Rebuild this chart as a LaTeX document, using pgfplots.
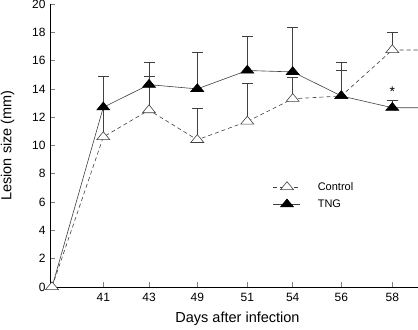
\documentclass[border=0pt]{standalone}
\usepackage{fontspec}
\setmainfont{Liberation Sans}
\usepackage{pgfplots}
\usepackage{pgfplotstable}
\pgfplotsset{compat=1.18}
\definecolor{ln}{gray}{0.25}
% x positions: 41,43,49,51,54,56,58 placed as in the reference
\pgfplotstableread{
x y ey
53.3 10.6 2.0
99 12.5 2.4
147.3 10.4 2.2
197.3 11.7 2.7
242.7 13.3 1.5
291.3 13.5 1.8
342.3 16.75 1.25
}\ctrlerr
\pgfplotstableread{
x y ey
53.3 12.7 2.2
99 14.3 1.6
147.3 14.0 2.6
197.3 15.3 2.4
242.7 15.2 3.15
291.3 13.5 2.4
342.3 12.67 0.53
}\tngerr
\pgfplotstableread{
x y
2 0
53.3 10.6
99 12.5
147.3 10.4
197.3 11.7
242.7 13.3
291.3 13.5
342.3 16.75
368 16.75
}\ctrl
\pgfplotstableread{
x y
2 0
53.3 12.7
99 14.3
147.3 14.0
197.3 15.3
242.7 15.2
291.3 13.5
342.3 12.67
368 12.67
}\tng
\begin{document}
\begin{tikzpicture}
\begin{axis}[
  at={(0,0)}, anchor=south west,
  scale only axis, width=368bp, height=283bp,
  xmin=0, xmax=368, ymin=0, ymax=20,
  clip=false,
  axis x line=bottom, axis y line=left,
  axis line style={-, black, line width=0.8bp},
  xtick={53.3,99,147.3,197.3,242.7,291.3,342.3},
  xticklabels={41,43,49,51,54,56,58},
  ytick={0,2,...,20},
  tick align=inside, major tick length=5bp,
  tick style={gray, line width=0.6bp},
  /pgf/number format/assume math mode=true,
  ticklabel style={font=\fontsize{12bp}{13bp}\selectfont},
  xticklabel style={yshift=-3bp},
  yticklabel style={xshift=-1bp},
  xlabel={Days after infection}, ylabel={Lesion size (mm)},
  every axis x label/.style={at={(axis description cs:0.5095,0)}, anchor=center, yshift=-32bp},
  every axis y label/.style={at={(axis description cs:-0.1155,0.5)}, rotate=90, anchor=center},
  label style={font=\fontsize{14.5bp}{16bp}\selectfont},
  legend style={draw=none, fill=none, at={(axis cs:220,7.7)}, anchor=north west,
    font=\fontsize{11bp}{13bp}\selectfont, row sep=4bp,
    /tikz/every odd column/.append style={column sep=15bp}},
  legend cell align=left,
  legend image code/.code={\draw[#1, mark indices={2}] plot coordinates {(0bp,0bp)(13.5bp,0bp)(27bp,0bp)};},
]
\addplot[only marks, mark=none, forget plot, ln, line width=0.6bp,
  error bars/.cd, y dir=plus, y explicit,
  error bar style={ln, solid, line width=0.6bp},
  error mark options={rotate=90, mark size=5.5bp, ln, line width=0.6bp}]
  table[x=x, y=y, y error=ey]{\ctrlerr};
\addplot[only marks, mark=none, forget plot, ln, line width=0.6bp,
  error bars/.cd, y dir=plus, y explicit,
  error bar style={ln, solid, line width=0.6bp},
  error mark options={rotate=90, mark size=5.5bp, ln, line width=0.6bp}]
  table[x=x, y=y, y error=ey]{\tngerr};
\addplot[ln, line width=0.6bp, dash pattern=on 4bp off 3bp,
  mark=triangle*, mark size=7.5bp, mark indices={1,...,8},
  mark options={solid, fill=white, draw=ln, yscale=0.7}]
  table[x=x, y=y]{\ctrl};
\addlegendentry{Control}
\addplot[ln, line width=0.6bp,
  mark=triangle*, mark size=7.5bp, mark indices={2,...,8},
  mark options={solid, fill=black, draw=black, yscale=0.7}]
  table[x=x, y=y]{\tng};
\addlegendentry{TNG}
\node[font=\fontsize{14bp}{15bp}\selectfont, inner sep=0pt] at (axis cs:342.3,13.8) {*};
\end{axis}
\pgfresetboundingbox
\useasboundingbox (-50bp,-43bp) rectangle (368bp,287bp);
\end{tikzpicture}
\end{document}
